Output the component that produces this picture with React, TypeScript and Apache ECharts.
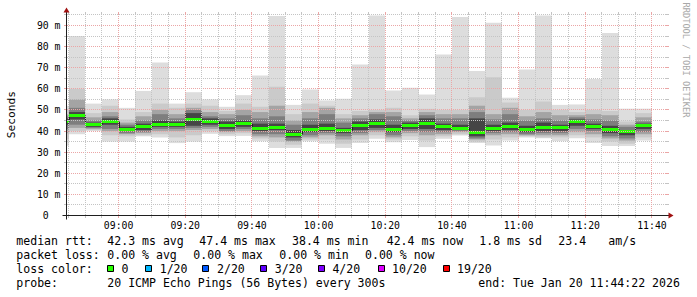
import React, { useEffect, useRef } from 'react';
import * as echarts from 'echarts';

// ---- data -------------------------------------------------------------
// end time of every 300 s step (the first one is only partly inside the window)
const barEndTimes = ['08:45', '08:50', '08:55', '09:00', '09:05', '09:10', '09:15', '09:20', '09:25', '09:30', '09:35', '09:40', '09:45', '09:50', '09:55', '10:00', '10:05', '10:10', '10:15', '10:20', '10:25', '10:30', '10:35', '10:40', '10:45', '10:50', '10:55', '11:00', '11:05', '11:10', '11:15', '11:20', '11:25', '11:30', '11:35', '11:40'];
// smoke bands (ms): outermost ping pair ... inner ping pairs
const maxRtt = [52, 85, 53, 55, 51, 59, 72.5, 53, 58.4, 55, 51.5, 57, 66.3, 94.5, 52.4, 59.7, 54.5, 55.3, 71.5, 94.7, 59.2, 60.5, 57.3, 76.3, 94, 68.4, 91.3, 55.8, 69.2, 94.7, 52.4, 52.6, 64.7, 86.5, 50.6, 50.6];
const hi2 = [50, 60, 48.5, 52, 45.5, 49, 53, 51, 53, 52, 49.5, 53, 51.5, 61, 48, 53, 52, 48, 49.5, 50, 51, 47.5, 50.5, 50, 50, 56, 65.5, 53.5, 50, 54, 50, 49, 50, 49.5, 44.5, 48.5];
const hi4 = [48, 55, 46.5, 49, 44, 47, 50, 48, 51, 49, 48, 50, 49, 52, 45, 49, 51, 46, 47.5, 49, 49, 46, 49, 48, 48, 52, 48, 51, 47, 49, 47.5, 47.5, 48, 47.5, 43, 46.5];
const hi6 = [47, 51, 45, 47, 43, 45, 48, 46, 50, 47, 46, 47.5, 46, 47, 43, 46, 48, 44, 46, 48, 47, 45, 47.5, 46, 46, 49, 45.5, 48, 45, 46, 45, 46.5, 45.5, 45, 42, 44.5];
const hi9 = [46, 49, 44, 46, 42, 43.5, 45, 44.5, 48.5, 46, 44.5, 45, 43.5, 43.5, 40.5, 43, 43.5, 41.5, 44.5, 45.5, 43, 44, 46, 43.5, 43, 46, 43, 44, 42.5, 44, 43, 45.5, 43.5, 42.5, 40.5, 43.5];
const median = [44.5, 47.4, 43.1, 44.5, 40.9, 42, 43.3, 43.1, 45.6, 44.5, 42.8, 43.4, 41.4, 41.7, 38.4, 40.6, 41.1, 40.1, 42.6, 43.4, 40.7, 42.8, 43.7, 42, 41.4, 39.2, 41.4, 42, 40.7, 41.5, 41.5, 44.5, 42.2, 40.7, 39.6, 42.4];
const lo9 = [43, 45.5, 42, 43, 40, 40.5, 42, 42, 42.5, 43, 41, 42, 40, 40.5, 37, 39.5, 40, 39, 40.5, 41.5, 39.5, 41, 41, 40.5, 40.5, 37.5, 40, 40.5, 39.5, 40, 40, 42.5, 41, 39, 38, 41];
const lo6 = [41, 43, 41.5, 41, 39, 39.5, 41, 41, 41.5, 42, 40, 41, 38.5, 38.5, 35.5, 38, 39, 37.5, 39, 40.5, 38, 40, 39.5, 39.5, 40, 36.5, 39, 39.5, 38.5, 39, 39, 41, 40, 37.5, 36.5, 39.5];
const lo4 = [39, 41.5, 41, 40, 38.5, 39, 40, 40, 40.5, 41, 39.5, 40, 37.5, 37, 35, 37, 38, 36, 38, 39.5, 37, 39, 38, 38.5, 39.5, 36, 38, 38.5, 38, 38, 38, 39.5, 38.5, 36.5, 35.5, 38.5];
const lo2 = [36, 40, 40.5, 38, 37.5, 38, 38.5, 37, 38, 40, 38.5, 39, 36.5, 35, 33.5, 36, 36, 34, 36, 38, 36, 37.5, 35.5, 37.5, 38.5, 35, 36, 37, 37.5, 37, 37, 38, 37, 35, 34, 37];
const minRtt = [33, 38.5, 40, 35, 35, 37.5, 37, 34.3, 35, 38.7, 37.6, 37.7, 35.2, 32, 32, 35.2, 34, 32, 34.4, 36.3, 34.7, 35.8, 32.4, 36.3, 37.9, 34.3, 33.2, 35.5, 37, 36.6, 35.2, 36.6, 34.3, 32.9, 32.9, 35.5];

const xTickLabels = ['09:00', '09:20', '09:40', '10:00', '10:20', '10:40', '11:00', '11:20', '11:40'];
const yTickValues = [0, 10, 20, 30, 40, 50, 60, 70, 80, 90];

const rttStats = ['42.3 ms avg', '47.4 ms max', '38.4 ms min', '42.4 ms now', '1.8 ms sd', '23.4', 'am/s'];
const lossStats = ['0.00 % avg', '0.00 % max', '0.00 % min', '0.00 % now'];
const lossLabels = ['0', '1/20', '2/20', '3/20', '4/20', '10/20', '19/20'];
const probeText = '20 ICMP Echo Pings (56 Bytes) every 300s';
const endText = 'end: Tue Jan 20 11:44:22 2026';

// ---- styles / layout ----------------------------------------------------
const lossColors = ['#26ff00', '#00b8ff', '#0059ff', '#5e00ff', '#7e00ff', '#dd00ff', '#ff0000'];
const smokeColors = ['#dddddd', '#cacaca', '#a4a4a4', '#7e7e7e', '#454545'];
const FONT = 'DejaVu Sans Mono';
const LEG_FS = 11.56;
const X_MIN = 8 * 60 + 44 + 22 / 60;
const X_MAX = X_MIN + 180;
const Y_MAX = 95;
const STEP = 5;
const MAJOR = '#eba6a6';
const MINOR = '#c4c4c4';

const toMin = (s: string) => {
  const [h, m] = s.split(':').map(Number);
  return h * 60 + m;
};
const fmtTime = (v: number) => {
  const t = Math.round(v);
  const h = Math.floor(t / 60);
  const m = t % 60;
  return `${String(h).padStart(2, '0')}:${String(m).padStart(2, '0')}`;
};

const layers = [
  { hi: maxRtt, lo: minRtt },
  { hi: hi2, lo: lo2 },
  { hi: hi4, lo: lo4 },
  { hi: hi6, lo: lo6 },
  { hi: hi9, lo: lo9 },
];

const snap = (v: number) => Math.floor(v) + 0.5;

function smokeItem(params: any, api: any) {
  const i = api.value(2);
  const end = toMin(barEndTimes[i]);
  const start = end - STEP;
  const left = api.coord([X_MIN, 0])[0];
  const x0 = Math.round(Math.max(api.coord([start, 0])[0], left));
  const x1 = Math.round(api.coord([end, 0])[0]);
  const w = x1 - x0;
  const children: any[] = [];
  layers.forEach((L, k) => {
    const yt = api.coord([end, L.hi[i]])[1];
    const yb = api.coord([end, L.lo[i]])[1];
    children.push({ type: 'rect', shape: { x: x0, y: yt, width: w, height: yb - yt }, style: { fill: smokeColors[k] } });
  });
  const ym = api.coord([end, median[i]])[1];
  if (i > 0) {
    const yp = api.coord([start, median[i - 1]])[1];
    children.push({ type: 'line', shape: { x1: x0 + 0.5, y1: yp, x2: x0 + 0.5, y2: ym }, style: { stroke: '#202020', lineWidth: 1 } });
  }
  const gy = Math.round(ym - 1.5);
  children.push({ type: 'rect', shape: { x: x0, y: gy, width: w, height: 3 }, style: { fill: lossColors[0] } });
  return { type: 'group', children };
}

function gridItem(params: any, api: any) {
  const children: any[] = [];
  const xl = snap(api.coord([X_MIN, 0])[0]);
  const xr = snap(api.coord([X_MAX, 0])[0]);
  const yb = snap(api.coord([X_MIN, 0])[1]);
  const yt = snap(api.coord([X_MIN, Y_MAX])[1]);
  // dashed lines start and end on whole pixels so that every dash fills one pixel
  const hx1 = xl + 0.5;
  const hx2 = xr + 0.5;
  const vy1 = yb - 0.5;
  const vy2 = yt - 0.5;
  for (let v = 5; v <= Y_MAX; v += 5) {
    const y = snap(api.coord([X_MIN, v])[1]);
    const c = v % 10 === 0 ? MAJOR : MINOR;
    children.push({ type: 'line', shape: { x1: hx1, y1: y, x2: hx2, y2: y }, style: { stroke: c, lineWidth: 1, lineDash: [1, 1] } });
    children.push({ type: 'line', shape: { x1: xl - 2.5, y1: y, x2: xl + 0.5, y2: y }, style: { stroke: c, lineWidth: 1 } });
    children.push({ type: 'line', shape: { x1: xr - 0.5, y1: y, x2: xr + 2.5, y2: y }, style: { stroke: c, lineWidth: 1 } });
  }
  for (let t = Math.ceil(X_MIN / STEP) * STEP; t <= X_MAX; t += STEP) {
    const x = snap(api.coord([t, 0])[0]);
    const c = t % 20 === 0 ? MAJOR : MINOR;
    children.push({ type: 'line', shape: { x1: x, y1: vy1, x2: x, y2: vy2 }, style: { stroke: c, lineWidth: 1, lineDash: [1, 1] } });
    children.push({ type: 'line', shape: { x1: x, y1: yb - 0.5, x2: x, y2: yb + 2.5 }, style: { stroke: c, lineWidth: 1 } });
    children.push({ type: 'line', shape: { x1: x, y1: yt - 2.5, x2: x, y2: yt + 0.5 }, style: { stroke: c, lineWidth: 1 } });
  }
  return { type: 'group', children };
}

const txt = (x: number, y: number, s: string, extra: any = {}) => ({
  type: 'text',
  x,
  y,
  z: 10,
  silent: true,
  style: {
    text: s,
    fontFamily: FONT,
    fontSize: LEG_FS,
    fill: '#000',
    textAlign: 'left',
    textVerticalAlign: 'middle',
    align: 'left',
    verticalAlign: 'middle',
    ...extra,
  },
});

const lineY = [240.5, 254.6, 268.7, 282.8];
const rttX = [107.3, 199.3, 292, 386.7, 479.3, 558.3, 608.3];
const lossX = [107.3, 193.3, 279.3, 365];
const boxX = [107, 145, 202, 260, 318, 378, 443];
const boxLabelX = [121.4, 159.7, 217, 274.7, 332.4, 392, 457];

function buildGraphic() {
  const els: any[] = [];
  // axes
  els.push({ type: 'line', z: 12, silent: true, shape: { x1: 62.5, y1: 215.5, x2: 670.5, y2: 215.5 }, style: { stroke: '#1f1f1f', lineWidth: 1 } });
  els.push({ type: 'line', z: 12, silent: true, shape: { x1: 66.5, y1: 219.5, x2: 66.5, y2: 10.5 }, style: { stroke: '#1f1f1f', lineWidth: 1 } });
  els.push({ type: 'polygon', z: 12, silent: true, shape: { points: [[668.5, 212.5], [668.5, 218.5], [673.5, 215.5]] }, style: { fill: '#a01010' } });
  els.push({ type: 'polygon', z: 12, silent: true, shape: { points: [[63.5, 12.5], [69.5, 12.5], [66.5, 7.5]] }, style: { fill: '#a01010' } });
  // axis title and watermark
  els.push({ type: 'text', x: 11, y: 114.7, rotation: Math.PI / 2, z: 10, silent: true, style: { text: 'Seconds', fontFamily: FONT, fontSize: 11.2, fill: '#000', textAlign: 'center', textVerticalAlign: 'middle', align: 'center', verticalAlign: 'middle' } });
  els.push({ type: 'text', x: 686.3, y: 60, rotation: -Math.PI / 2, z: 10, silent: true, style: { text: 'RRDTOOL / TOBI OETIKER', fontFamily: FONT, fontSize: 8.7, fill: '#a8a8a8', textAlign: 'center', textVerticalAlign: 'middle', align: 'center', verticalAlign: 'middle' } });
  // legend
  els.push(txt(16.3, lineY[0], 'median rtt:'));
  rttStats.forEach((s, k) => els.push(txt(rttX[k], lineY[0], s)));
  els.push(txt(16.3, lineY[1], 'packet loss:'));
  lossStats.forEach((s, k) => els.push(txt(lossX[k], lineY[1], s)));
  els.push(txt(16.3, lineY[2], 'loss color:'));
  lossLabels.forEach((s, k) => {
    els.push({ type: 'rect', z: 10, silent: true, shape: { x: boxX[k] + 0.5, y: 265.5, width: 6, height: 6 }, style: { fill: lossColors[k], stroke: '#000', lineWidth: 1 } });
    els.push(txt(boxLabelX[k], lineY[2], s));
  });
  els.push(txt(16.3, lineY[3], 'probe:'));
  els.push(txt(107.3, lineY[3], probeText));
  els.push(txt(478.3, lineY[3], endText));
  return els;
}

const option: any = {
  animation: false,
  backgroundColor: '#ffffff',
  grid: { left: 66.5, width: 600, top: 215.5 - Y_MAX * (190 / 90), height: Y_MAX * (190 / 90), containLabel: false, outerBoundsMode: 'none' },
  xAxis: {
    type: 'value',
    min: X_MIN,
    max: X_MAX,
    axisLine: { show: false },
    axisTick: { show: false },
    splitLine: { show: false },
    axisLabel: {
      customValues: xTickLabels.map(toMin),
      formatter: (v: number) => fmtTime(v),
      fontFamily: FONT,
      fontSize: 9.8,
      color: '#000',
      margin: 10,
      verticalAlign: 'middle',
    },
  },
  yAxis: {
    type: 'value',
    min: 0,
    max: Y_MAX,
    axisLine: { show: false },
    axisTick: { show: false },
    splitLine: { show: false },
    axisLabel: {
      customValues: yTickValues,
      formatter: (v: number) => (v === 0 ? '0\u00a0\u00a0' : `${v} m`),
      fontFamily: FONT,
      fontSize: 9.8,
      color: '#000',
      margin: 6,
    },
  },
  series: [
    {
      type: 'custom',
      name: 'smoke',
      z: 2,
      silent: true,
      encode: { x: 0, y: 1 },
      data: barEndTimes.map((t, i) => [toMin(t), median[i], i]),
      renderItem: smokeItem,
    },
    {
      type: 'custom',
      name: 'grid',
      z: 5,
      silent: true,
      encode: { x: 0, y: 1 },
      data: [[X_MIN, 0]],
      renderItem: gridItem,
    },
  ],
  graphic: { elements: buildGraphic() },
};

export default function App() {
  const ref = useRef<HTMLDivElement>(null);
  useEffect(() => {
    const chart = echarts.init(ref.current!, null, { renderer: 'svg' });
    chart.setOption(option);
    return () => chart.dispose();
  }, []);
  return <div ref={ref} style={{ position: 'absolute', left: 0, top: 0, width: 697, height: 297 }} />;
}
